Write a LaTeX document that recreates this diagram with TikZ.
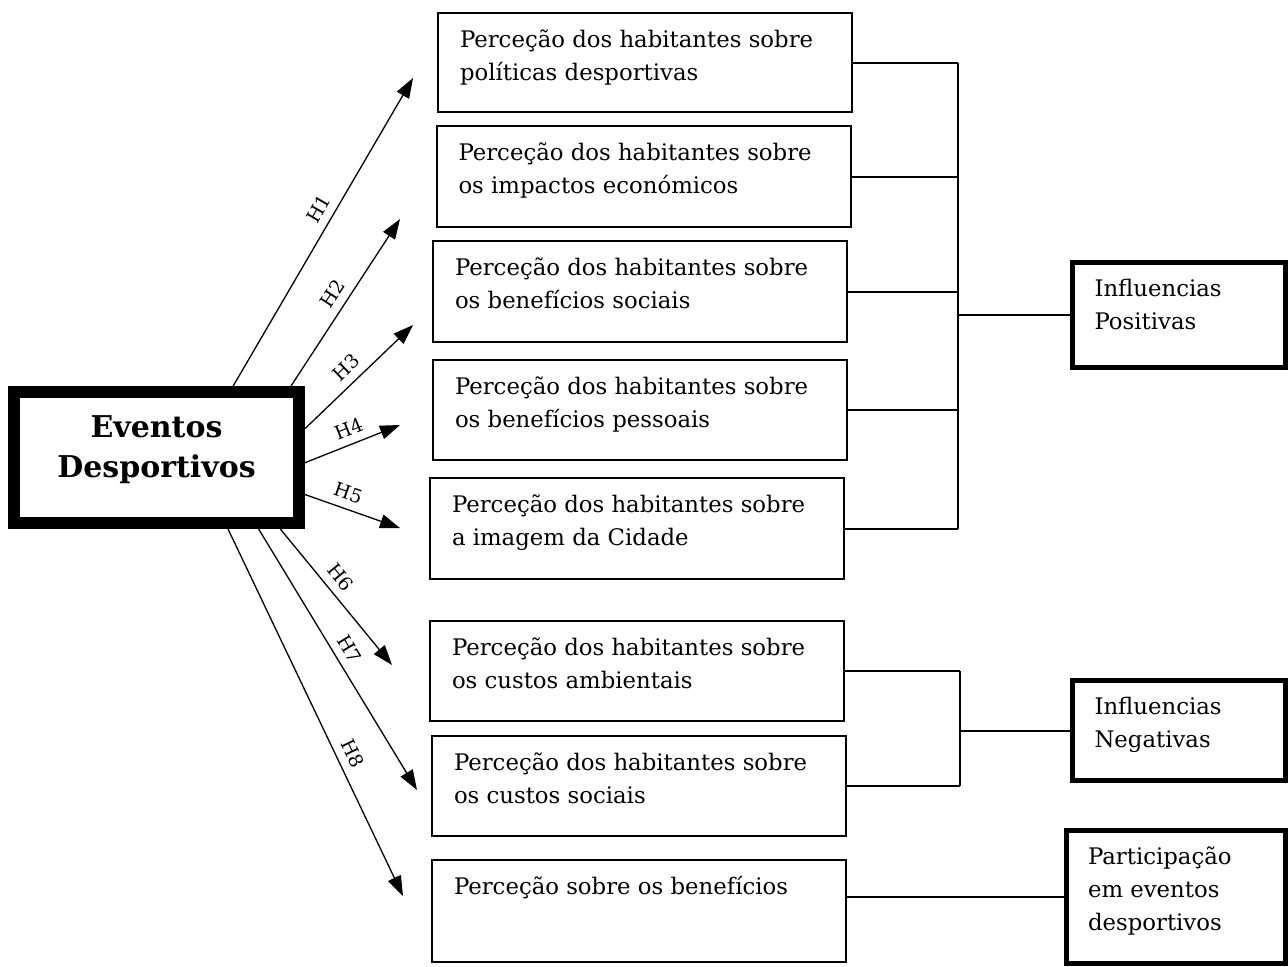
\documentclass[tikz,border=0pt]{standalone}
\usepackage{fontspec}
\setmainfont{DejaVu Serif}
\usetikzlibrary{arrows.meta}
\newcommand{\boxtext}[3]{\parbox[c][#2][t]{#1}{\rule{0pt}{17pt}#3}}
\begin{document}
\begin{tikzpicture}[x=0.5pt, y=-0.5pt,
  percbox/.style={draw, line width=1pt, inner sep=0pt, minimum width=207pt, font=\fontsize{11.4}{16.5}\selectfont},
  grpbox/.style={draw, line width=2.5pt, inner sep=0pt, font=\fontsize{11.4}{16.5}\selectfont},
  hyparrow/.style={-{Triangle[length=10pt,width=7pt]}, line width=0.65pt},
  hlab/.style={sloped, above=3pt, inner sep=1pt, font=\fontsize{9.5}{10}\selectfont},
  link/.style={line width=1pt}]
\useasboundingbox (0,0) rectangle (1288,966);
% central box
\node[draw, line width=6pt, inner sep=0pt, font=\bfseries\fontsize{15}{20}\selectfont] (ev) at (156.5,457.5)
  {\parbox[c][65.5pt][t]{142.5pt}{\centering\rule{0pt}{22.5pt}Eventos\\Desportivos}};
% perception boxes
\node[percbox] (b1) at (645,62.5) {\boxtext{185pt}{49.5pt}{Perceção dos habitantes sobre\\políticas desportivas}};
\node[percbox] (b2) at (643.5,176.5) {\boxtext{185pt}{50.5pt}{Perceção dos habitantes sobre\\os impactos económicos}};
\node[percbox] (b3) at (640,291.5) {\boxtext{185pt}{50.5pt}{Perceção dos habitantes sobre\\os benefícios sociais}};
\node[percbox] (b4) at (640,410) {\boxtext{185pt}{50pt}{Perceção dos habitantes sobre\\os benefícios pessoais}};
\node[percbox] (b5) at (637,528.5) {\boxtext{185pt}{50.5pt}{Perceção dos habitantes sobre\\a imagem da Cidade}};
\node[percbox] (b6) at (637,671) {\boxtext{185pt}{50pt}{Perceção dos habitantes sobre\\os custos ambientais}};
\node[percbox] (b7) at (639,786) {\boxtext{185pt}{50pt}{Perceção dos habitantes sobre\\os custos sociais}};
\node[percbox] (b8) at (639,911) {\boxtext{185pt}{51pt}{Perceção sobre os benefícios}};
% group boxes
\node[grpbox, minimum width=106.5pt] (pos) at (1179,315) {\boxtext{84.5pt}{52.5pt}{Influencias\\Positivas}};
\node[grpbox, minimum width=106.5pt] (neg) at (1179,730.5) {\boxtext{84.5pt}{50pt}{Influencias\\Negativas}};
\node[grpbox, minimum width=109.5pt] (part) at (1176,897) {\boxtext{88pt}{66.5pt}{Participação\\em eventos\\desportivos}};
% brackets
\coordinate (j1) at (958,309);
\coordinate (j2) at (960,732);
\draw[link] (b1.east) -- (b1.east -| j1);
\draw[link] (b2.east) -- (b2.east -| j1);
\draw[link] (b3.east) -- (b3.east -| j1);
\draw[link] (b4.east) -- (b4.east -| j1);
\draw[link] (b5.east) -- (b5.east -| j1);
\draw[link] (b1.east -| j1) -- (b5.east -| j1);
\draw[link] (pos.west -| j1) -- (pos.west);
\draw[link] (b6.east) -- (b6.east -| j2);
\draw[link] (b7.east) -- (b7.east -| j2);
\draw[link] (b6.east -| j2) -- (b7.east -| j2);
\draw[link] (neg.west -| j2) -- (neg.west);
\draw[link] (part.west) -- (part.west -| b8.east);
% hypotheses
\coordinate (t1) at (413,78);
\coordinate (t2) at (400,219);
\coordinate (t3) at (413,325);
\coordinate (t4) at (400,425);
\coordinate (t5) at (400,528);
\coordinate (t6) at (392,665);
\coordinate (t7) at (417,790);
\coordinate (t8) at (403,896);
\draw[hyparrow] (ev.43) -- node[hlab, pos=0.55] {H1} (t1);
\draw[hyparrow] (ev.28.5) -- node[hlab, pos=0.5] {H2} (t2);
\draw[hyparrow] (ev.11.6) -- node[hlab, pos=0.48] {H3} (t3);
\draw[hyparrow] (ev.-2.1) -- node[hlab, pos=0.52] {H4} (t4);
\draw[hyparrow] (ev.-14.2) -- node[hlab, pos=0.4] {H5} (t5);
\draw[hyparrow] (ev.-30) -- node[hlab, pos=0.43] {H6} (t6);
\draw[hyparrow] (ev.-35) -- node[hlab, pos=0.49] {H7} (t7);
\draw[hyparrow] (ev.-45.8) -- node[hlab, pos=0.63] {H8} (t8);
\end{tikzpicture}
\end{document}
